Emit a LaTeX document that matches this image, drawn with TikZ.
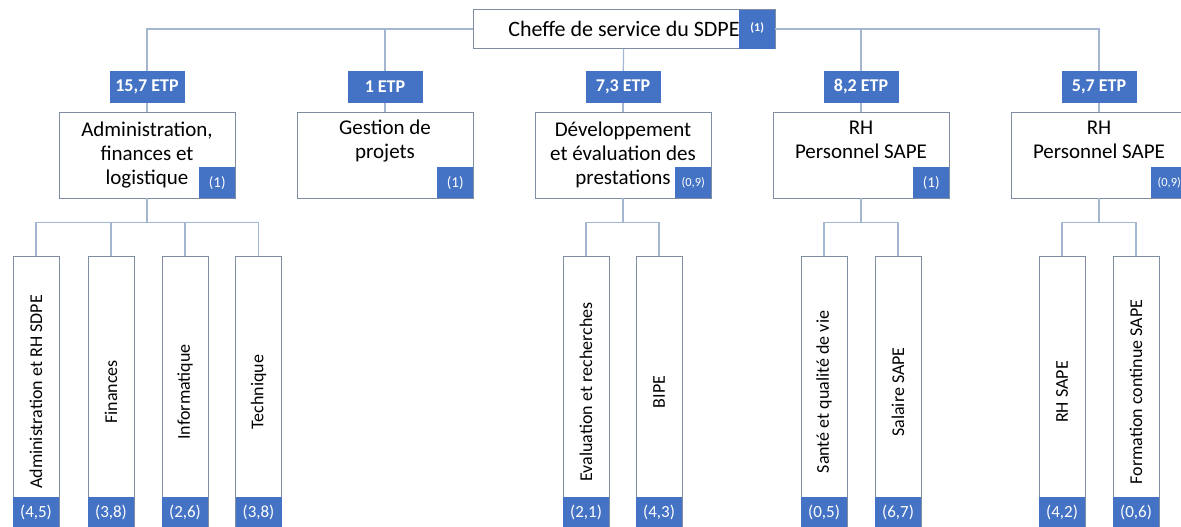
\documentclass[tikz,border=0pt]{standalone}
\usepackage{fontspec}
\setmainfont{Carlito}
\definecolor{etpblue}{HTML}{4472C4}
\definecolor{boxline}{HTML}{7F8DA3}
\definecolor{linkline}{HTML}{A3B6D2}
\begin{document}
\begin{tikzpicture}[x=1pt, y=-1pt,
    link/.style={draw=linkline, line width=1.2pt},
    unit/.style={draw=boxline, fill=white, line width=0.9pt, minimum width=176pt, minimum height=86pt,
      inner sep=0pt, align=center, font=\fontsize{21}{24}\selectfont},
    etp/.style={fill=etpblue, text=white, minimum width=75pt, minimum height=32pt, inner sep=0pt,
      font=\fontsize{18}{18}\selectfont\bfseries},
    tag/.style={fill=etpblue, text=white, minimum width=36pt, minimum height=31pt, inner sep=0pt,
      anchor=south east, font=\fontsize{15}{15}\selectfont},
    cell/.style={draw=boxline, fill=white, line width=0.9pt, rotate=90, minimum width=272pt,
      minimum height=46pt, inner sep=0pt, font=\fontsize{18}{18}\selectfont},
    band/.style={fill=etpblue, text=white, minimum width=46pt, minimum height=31pt, inner sep=0pt,
      anchor=south, font=\fontsize{17}{17}\selectfont}]
  \useasboundingbox (0,0) rectangle (1181,527);
  % head of service
  \node[unit, minimum width=302pt, minimum height=39pt, font=\fontsize{22}{24}\selectfont] (chef) at (624,29)
    {Cheffe de service du SDPE};
  \node[tag, minimum height=39pt, font=\fontsize{12}{12}\selectfont\bfseries] (chef-n) at (chef.south east)
    {\raisebox{4pt}{(1)}};
  % ETP labels
  \node[etp] (etp-a) at (147,87) {15,7 ETP};
  \node[etp] (etp-b) at (385,87) {1 ETP};
  \node[etp] (etp-c) at (623,87) {7,3 ETP};
  \node[etp] (etp-d) at (861,87) {8,2 ETP};
  \node[etp] (etp-e) at (1099,87) {5,7 ETP};
  % units
  \node[unit] (adm) at (147,155) {Administration,\\finances et\\logistique};
  \node[unit] (gest) at (385,155) {Gestion de\\projets\\\strut};
  \node[unit] (dev) at (623,155) {Développement\\et évaluation des\\prestations};
  \node[unit] (rha) at (861,155) {RH\\Personnel SAPE\\\strut};
  \node[unit] (rhb) at (1099,155) {RH\\Personnel SAPE\\\strut};
  \node[tag] (adm-n) at (adm.south east) {(1)};
  \node[tag] (gest-n) at (gest.south east) {(1)};
  \node[tag, font=\fontsize{12.5}{12.5}\selectfont] (dev-n) at (dev.south east) {(0,9)};
  \node[tag] (rha-n) at (rha.south east) {(1)};
  \node[tag, font=\fontsize{12.5}{12.5}\selectfont] (rhb-n) at (rhb.south east) {(0,9)};
  % sections
  \foreach \n/\x/\t/\v in {ar/36/Administration et RH SDPE/{(4,5)}, fin/111/Finances/{(3,8)},
      inf/185/Informatique/{(2,6)}, tec/258.5/Technique/{(3,8)},
      eval/586/Evaluation et recherches/{(2,1)}, bipe/659/BIPE/{(4,3)},
      sante/824/Santé et qualité de vie/{(0,5)}, sal/898/Salaire SAPE/{(6,7)},
      rhs/1062/RH SAPE/{(4,2)}, fc/1136/Formation continue SAPE/{(0,6)}} {
    \node[cell] (\n) at (\x,392) {\t};
    \node[band] (\n-n) at (\n.west) {\v};
  }
  % links
  \foreach \e in {etp-a,etp-b}
    \draw[link] (chef.west) -| (\e.north);
  \foreach \e in {etp-d,etp-e}
    \draw[link] (chef.east) -| (\e.north);
  \draw[link] (chef) -- (etp-c);
  \foreach \e/\u in {etp-a/adm,etp-b/gest,etp-c/dev,etp-d/rha,etp-e/rhb}
    \draw[link] (\e) -- (\u);
  \foreach \u/\c in {adm/ar,adm/fin,adm/inf,adm/tec,dev/eval,dev/bipe,rha/sante,rha/sal,rhb/rhs,rhb/fc}
    \draw[link] (\u.south) -- ++(0,24) -| (\c.east);
\end{tikzpicture}
\end{document}
